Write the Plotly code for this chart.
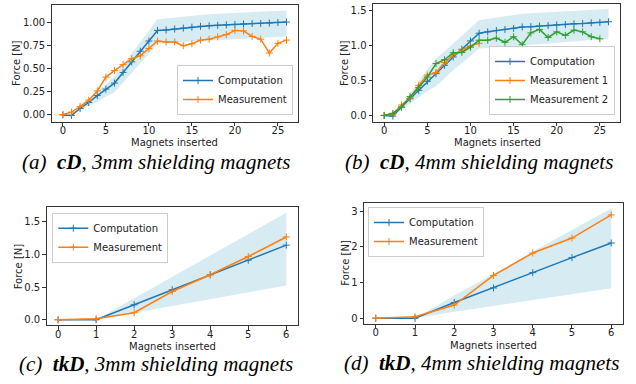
import plotly.graph_objects as go

# ---------------- data ----------------
# (a) cD, 3mm shielding magnets
xa = list(range(27))
comp_a = [0.0, -0.005, 0.07, 0.135, 0.21, 0.28, 0.345, 0.46, 0.575, 0.69, 0.80, 0.915, 0.92, 0.93, 0.94,
          0.95, 0.96, 0.965, 0.97, 0.975, 0.98, 0.985, 0.99, 0.99, 0.995, 1.0, 1.005]
meas_a = [0.005, 0.03, 0.09, 0.16, 0.26, 0.41, 0.48, 0.545, 0.61, 0.64, 0.72, 0.80, 0.79, 0.79, 0.75,
          0.77, 0.81, 0.82, 0.845, 0.87, 0.915, 0.91, 0.85, 0.82, 0.67, 0.775, 0.81]
up_a = [0.0, 0.0, 0.08, 0.16, 0.245, 0.33, 0.42, 0.54, 0.67, 0.79, 0.91, 1.035, 1.045, 1.055, 1.065,
        1.075, 1.085, 1.09, 1.095, 1.10, 1.105, 1.11, 1.115, 1.12, 1.12, 1.125, 1.13]
lo_a = [0.0, 0.0, 0.05, 0.10, 0.14, 0.20, 0.245, 0.35, 0.46, 0.56, 0.67, 0.77, 0.78, 0.785, 0.79,
        0.80, 0.805, 0.81, 0.815, 0.82, 0.825, 0.83, 0.835, 0.84, 0.845, 0.848, 0.85]

# (b) cD, 4mm shielding magnets
xb = list(range(27))
comp_b = [0.0, -0.01, 0.12, 0.24, 0.36, 0.49, 0.60, 0.72, 0.84, 0.95, 1.07, 1.18, 1.20, 1.22, 1.235,
          1.25, 1.27, 1.275, 1.285, 1.29, 1.30, 1.305, 1.315, 1.32, 1.33, 1.335, 1.345]
xb1 = list(range(12))
meas1_b = [0.0, 0.02, 0.15, 0.25, 0.43, 0.58, 0.615, 0.76, 0.87, 0.94, 1.0, 1.035]
xb2 = list(range(26))
meas2_b = [0.0, 0.03, 0.12, 0.27, 0.40, 0.55, 0.745, 0.80, 0.90, 0.905, 0.98, 1.08, 1.08, 1.11, 1.05,
           1.13, 1.015, 1.185, 1.235, 1.12, 1.20, 1.15, 1.225, 1.20, 1.13, 1.10]
up_b = [0.0, 0.0, 0.15, 0.32, 0.50, 0.66, 0.81, 0.92, 1.03, 1.14, 1.25, 1.365, 1.385, 1.405, 1.425,
        1.445, 1.46, 1.467, 1.474, 1.481, 1.488, 1.495, 1.502, 1.509, 1.516, 1.523, 1.53]
lo_b = [0.0, 0.0, 0.08, 0.17, 0.27, 0.35, 0.42, 0.54, 0.65, 0.75, 0.86, 0.96, 0.969, 0.979, 0.988,
        0.997, 1.007, 1.016, 1.025, 1.035, 1.044, 1.053, 1.063, 1.072, 1.081, 1.09, 1.10]

# (c) tkD, 3mm shielding magnets
xc = list(range(7))
comp_c = [0.0, 0.0, 0.23, 0.46, 0.69, 0.915, 1.145]
meas_c = [0.0, 0.015, 0.108, 0.433, 0.69, 0.97, 1.27]
up_c = [0.0, 0.0, 0.33, 0.66, 0.99, 1.31, 1.64]
lo_c = [0.0, 0.0, 0.106, 0.21, 0.32, 0.42, 0.525]

# (d) tkD, 4mm shielding magnets
xd = list(range(7))
comp_d = [0.0, 0.0, 0.44, 0.85, 1.28, 1.70, 2.11]
meas_d = [0.0, 0.04, 0.37, 1.20, 1.83, 2.25, 2.90]
up_d = [0.0, 0.0, 0.64, 1.24, 1.87, 2.48, 3.08]
lo_d = [0.0, 0.0, 0.18, 0.34, 0.51, 0.68, 0.84]

captions = ["(a)\u00a0\u00a0<b>cD</b>, 3mm shielding magnets",
            "(b)\u00a0\u00a0<b>cD</b>, 4mm shielding magnets",
            "(c)\u00a0\u00a0<b>tkD</b>, 3mm shielding magnets",
            "(d)\u00a0\u00a0<b>tkD</b>, 4mm shielding magnets"]
x_title = "Magnets inserted"
y_title = "Force [N]"

# ---------------- style ----------------
BLUE, ORANGE, GREEN = "#1f77b4", "#ff7f0e", "#2ca02c"
BAND = "rgba(173,216,230,0.5)"
W, H = 636, 384
FONT = "DejaVu Sans"
TXT = "#222"

fig = go.Figure()


def ax_names(ax):
    return ("x", "y") if ax == 1 else (f"x{ax}", f"y{ax}")


def add_band(x, up, lo, ax):
    xa_, ya_ = ax_names(ax)
    fig.add_trace(go.Scatter(x=x, y=up, mode="lines", line=dict(width=0, color=BAND),
                             showlegend=False, hoverinfo="skip", xaxis=xa_, yaxis=ya_))
    fig.add_trace(go.Scatter(x=x, y=lo, mode="lines", line=dict(width=0, color=BAND),
                             fill="tonexty", fillcolor=BAND,
                             showlegend=False, hoverinfo="skip", xaxis=xa_, yaxis=ya_))


def add_line(x, y, name, color, ax, legend):
    xa_, ya_ = ax_names(ax)
    fig.add_trace(go.Scatter(x=x, y=y, name=name, mode="lines+markers",
                             line=dict(color=color, width=1.5),
                             marker=dict(symbol="cross-thin", size=5, color=color,
                                         line=dict(color=color, width=1)),
                             xaxis=xa_, yaxis=ya_, legend=legend))


add_band(xa, up_a, lo_a, 1)
add_line(xa, comp_a, "Computation", BLUE, 1, "legend")
add_line(xa, meas_a, "Measurement", ORANGE, 1, "legend")

add_band(xb, up_b, lo_b, 2)
add_line(xb, comp_b, "Computation", BLUE, 2, "legend2")
add_line(xb1, meas1_b, "Measurement 1", ORANGE, 2, "legend2")
add_line(xb2, meas2_b, "Measurement 2", GREEN, 2, "legend2")

add_band(xc, up_c, lo_c, 3)
add_line(xc, comp_c, "Computation", BLUE, 3, "legend3")
add_line(xc, meas_c, "Measurement", ORANGE, 3, "legend3")

add_band(xd, up_d, lo_d, 4)
add_line(xd, comp_d, "Computation", BLUE, 4, "legend4")
add_line(xd, meas_d, "Measurement", ORANGE, 4, "legend4")


def px_x(p):
    return p / W


def px_y(p):
    return 1 - p / H


axis_common = dict(showline=True, mirror=True, linecolor="#333", linewidth=1,
                   ticks="outside", ticklen=3.5, tickwidth=0.8, tickcolor="#333",
                   showgrid=False, zeroline=False, automargin=False,
                   tickfont=dict(family=FONT, size=10, color=TXT))

panels = [
    # domain px (left, right, top, bottom), xrange, yrange, xticks, yticks, yfmt
    ((51.7, 297.7, 5, 121.7), [-1.3, 27.3], [-0.073, 1.19], [0, 5, 10, 15, 20, 25], [0, 0.25, 0.5, 0.75, 1.0], ".2f"),
    ((373, 619.7, 4, 121.7), [-1.3, 27.3], [-0.09, 1.6], [0, 5, 10, 15, 20, 25], [0, 0.5, 1.0, 1.5], ".1f"),
    ((46.7, 297.7, 207, 325.3), [-0.3, 6.3], [-0.085, 1.73], [0, 1, 2, 3, 4, 5, 6], [0, 0.5, 1.0, 1.5], ".1f"),
    ((364, 623, 203, 323.7), [-0.3, 6.3], [-0.154, 3.234], [0, 1, 2, 3, 4, 5, 6], [0, 1, 2, 3], "d"),
]
# axis-title centres (px): x-title (x, y), y-title (x, y)
xtitle_pos = [(174.7, 142), (497, 142), (172.5, 346), (493.3, 345.5)]
ytitle_pos = [(16.7, 63.3), (344, 63), (18.3, 266), (344.7, 263)]

layout = dict(width=W, height=H, margin=dict(l=0, r=0, t=0, b=0),
              paper_bgcolor="white", plot_bgcolor="white", showlegend=True)

for i, (dom, xr, yr, xt, yt, yf) in enumerate(panels, start=1):
    l, r, t, b = dom
    xk = "xaxis" if i == 1 else f"xaxis{i}"
    yk = "yaxis" if i == 1 else f"yaxis{i}"
    xanchor = "y" if i == 1 else f"y{i}"
    yanchor = "x" if i == 1 else f"x{i}"
    layout[xk] = dict(axis_common, domain=[px_x(l), px_x(r)], range=xr, tickvals=xt, anchor=xanchor,
                      ticklabelstandoff=-4)
    ytxt = [format(v, yf) if yf != "d" else str(int(v)) for v in yt]
    layout[yk] = dict(axis_common, domain=[px_y(b), px_y(t)], range=yr, tickvals=yt, ticktext=ytxt,
                      anchor=yanchor)

leg_common = dict(bgcolor="rgba(255,255,255,0.8)", bordercolor="#cccccc", borderwidth=1,
                  font=dict(family=FONT, size=10, color=TXT), itemwidth=30,
                  tracegroupgap=0, traceorder="normal")
layout["legend"] = dict(leg_common, x=px_x(293), y=px_y(115), xanchor="right", yanchor="bottom")
layout["legend2"] = dict(leg_common, x=px_x(615), y=px_y(115), xanchor="right", yanchor="bottom")
layout["legend3"] = dict(leg_common, x=px_x(52.3), y=px_y(212.7), xanchor="left", yanchor="top")
layout["legend4"] = dict(leg_common, x=px_x(368), y=px_y(207), xanchor="left", yanchor="top")

annotations = []
for (cx, cy) in xtitle_pos:
    annotations.append(dict(text=x_title, x=px_x(cx), y=px_y(cy), xref="paper", yref="paper",
                            xanchor="center", yanchor="middle", showarrow=False,
                            font=dict(family=FONT, size=10, color=TXT)))
for (cx, cy) in ytitle_pos:
    annotations.append(dict(text=y_title, x=px_x(cx), y=px_y(cy), xref="paper", yref="paper",
                            xanchor="center", yanchor="middle", showarrow=False, textangle=-90,
                            font=dict(family=FONT, size=10, color=TXT)))
cap_pos = [(156, 162), (479, 162), (156, 363.5), (481, 362.5)]
for c, (cx, cy) in zip(captions, cap_pos):
    annotations.append(dict(text=f"<i>{c}</i>", x=px_x(cx), y=px_y(cy), xref="paper", yref="paper",
                            xanchor="center", yanchor="middle", showarrow=False,
                            font=dict(family="Liberation Serif", size=21, color="black")))
layout["annotations"] = annotations

fig.update_layout(**layout)
fig.write_html("out.html", config={"displayModeBar": False},
               post_script="document.body.style.margin='0';document.body.style.padding='0';")
